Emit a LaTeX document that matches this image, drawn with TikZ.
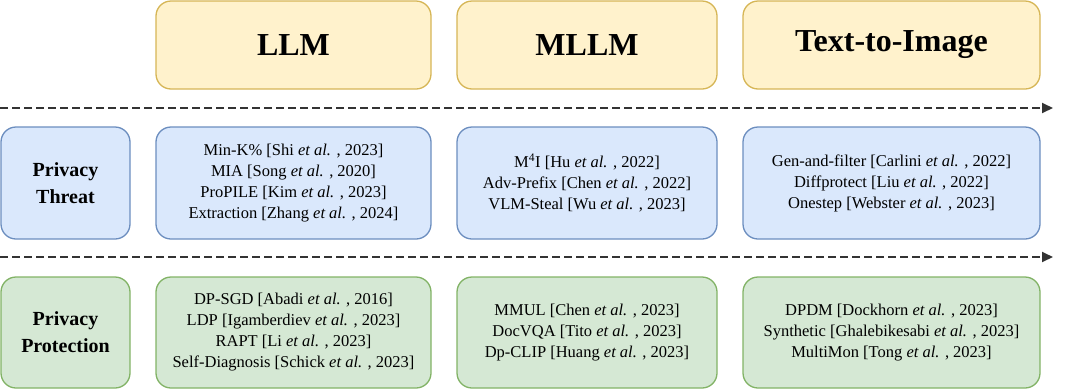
\documentclass[tikz,border=0pt]{standalone}
\usepackage{fontspec}
\setmainfont{Liberation Serif}
\usetikzlibrary{arrows.meta}
\definecolor{yfill}{HTML}{FFF2CC}\definecolor{ydraw}{HTML}{D6B656}
\definecolor{bfill}{HTML}{DAE8FC}\definecolor{bdraw}{HTML}{6C8EBF}
\definecolor{gfill}{HTML}{D5E8D4}\definecolor{gdraw}{HTML}{82B366}
\definecolor{arr}{HTML}{333333}
\newcommand{\etal}{\textit{et al.}}
\tikzset{
  basebox/.style={rounded corners=15pt, line width=1.3pt, inner sep=0pt, align=center},
  hdr/.style={basebox, fill=yfill, draw=ydraw, font=\fontsize{32}{36}\selectfont\bfseries},
  thr/.style={basebox, fill=bfill, draw=bdraw, font=\fontsize{16.5}{21}\selectfont},
  prt/.style={basebox, fill=gfill, draw=gdraw, font=\fontsize{16.5}{21}\selectfont},
  lab/.style={font=\fontsize{20}{27}\selectfont\bfseries},
  timeline/.style={draw=arr, line width=1.8pt, dash pattern=on 8pt off 4pt, -{Triangle[length=11pt,width=10pt]}}
}
\begin{document}
\begin{tikzpicture}[x=1pt,y=-1pt]
\useasboundingbox (0,0) rectangle (1080,389);
% headers
\node[hdr, minimum width=275pt, minimum height=88pt] (hllm) at (293.5,45) {LLM};
\node[hdr, minimum width=260pt, minimum height=88pt] (hmllm) at (587,45) {MLLM};
\node[hdr, minimum width=297pt, minimum height=88pt] (ht2i) at (891.5,45) {Text-to-Image};
% timelines
\coordinate (t1s) at (0,108); \coordinate (t1e) at (1053,108);
\coordinate (t2s) at (0,257); \coordinate (t2e) at (1053,257);
\draw[timeline] (t1s) -- (t1e);
\draw[timeline] (t2s) -- (t2e);
% threat row
\node[thr, lab, minimum width=129pt, minimum height=112pt] (pthreat) at (65.5,183) {Privacy\\Threat};
\node[thr, minimum width=275pt, minimum height=112pt] (tllm) at (293.5,183) {Min-K\% [Shi \etal{} , 2023]\\MIA [Song \etal{} , 2020]\\ProPILE [Kim \etal{} , 2023]\\Extraction [Zhang \etal{} , 2024]};
\node[thr, minimum width=260pt, minimum height=112pt] (tmllm) at (587,183) {M\textsuperscript{4}I [Hu \etal{} , 2022]\\Adv-Prefix [Chen \etal{} , 2022]\\VLM-Steal [Wu \etal{} , 2023]};
\node[thr, minimum width=297pt, minimum height=112pt] (tt2i) at (891.5,183) {Gen-and-filter [Carlini \etal{} , 2022]\\Diffprotect [Liu \etal{} , 2022]\\Onestep [Webster \etal{} , 2023]};
% protection row
\node[prt, lab, minimum width=129pt, minimum height=111pt] (pprot) at (65.5,332.5) {Privacy\\Protection};
\node[prt, minimum width=275pt, minimum height=111pt] (pllm) at (293.5,332.5) {DP-SGD [Abadi \etal{} , 2016]\\LDP [Igamberdiev \etal{} , 2023]\\RAPT [Li \etal{} , 2023]\\Self-Diagnosis [Schick \etal{} , 2023]};
\node[prt, minimum width=260pt, minimum height=111pt] (pmllm) at (587,332.5) {MMUL [Chen \etal{} , 2023]\\DocVQA [Tito \etal{} , 2023]\\Dp-CLIP [Huang \etal{} , 2023]};
\node[prt, minimum width=297pt, minimum height=111pt] (pt2i) at (891.5,332.5) {DPDM [Dockhorn \etal{} , 2023]\\Synthetic [Ghalebikesabi \etal{} , 2023]\\MultiMon [Tong \etal{} , 2023]};
\end{tikzpicture}
\end{document}
